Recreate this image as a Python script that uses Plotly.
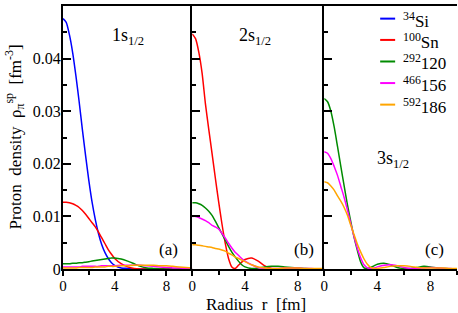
import plotly.graph_objects as go

# radius grid [fm]
R = [0, 0.25, 0.5, 0.75, 1, 1.25, 1.5, 1.75, 2, 2.25, 2.5, 2.75, 3, 3.25, 3.5, 3.75,
     4, 4.5, 5, 5.5, 6, 6.5, 7, 7.5, 8, 8.5, 9, 9.5, 10]

NUCLEI = ["<sup>34</sup>Si", "<sup>100</sup>Sn", "<sup>292</sup>120", "<sup>466</sup>156", "<sup>592</sup>186"]
COLORS = ["#0000ff", "#ff0000", "#008b00", "#ff00ff", "#ffa500"]

# panel (a) 1s1/2
s1_Si = [.0476, .0469, .0445, .0411, .0367, .0318, .0265, .0215, .0168, .0127, .0094, .0067, .0046, .0031, .0020, .0012,
         .0007, .0002, .0001, 0, 0, 0, 0, 0, 0, 0, 0, 0, 0]
s1_Sn = [.0127, .0127, .0126, .0124, .0121, .0117, .0111, .0104, .0096, .0088, .0080, .0070, .0059, .0048, .0037, .0028,
         .0020, .0010, .0004, .0001, 0, 0, 0, 0, 0, 0, 0, 0, 0]
s1_120 = [.0010, .0010, .0010, .0011, .0011, .0012, .0012, .0013, .0014, .0015, .0016, .0017, .0018, .0019, .0020, .0021,
          .0021, .0019, .0015, .0010, .0005, .0002, .0001, 0, 0, 0, 0, 0, 0]
s1_156 = [.0004, .0004, .0004, .0004, .0004, .0004, .0005, .0005, .0005, .0005, .0005, .0005, .0006, .0006, .0006, .0006,
          .0006, .0007, .0007, .0007, .0007, .0006, .0005, .0004, .0003, .0002, .0002, .0001, .0001]
s1_186 = [.0002, .0002, .0002, .0002, .0002, .0003, .0003, .0003, .0003, .0003, .0004, .0004, .0004, .0004, .0005, .0005,
          .0005, .0006, .0006, .0007, .0007, .0007, .0007, .0006, .0006, .0005, .0004, .0003, .0002]

# panel (b) 2s1/2
s2_Sn = [.0447, .0438, .0412, .0372, .0314, .0266, .0220, .0173, .0128, .0086, .0049, .0020, .0004, .0001, .0007, .0013,
         .0018, .0021, .0015, .0006, .0001, 0, 0, 0, 0, 0, 0, 0, 0]
s2_120 = [.0126, .0126, .0124, .0121, .0116, .0110, .0102, .0091, .0079, .0067, .0055, .0043, .0032, .0023, .0015, .0008,
          .0004, .0001, .0002, .0004, .0005, .0005, .0004, .0003, .0002, .0001, 0, 0, 0]
s2_156 = [.0100, .0100, .0098, .0095, .0092, .0088, .0083, .0080, .0076, .0068, .0059, .0049, .0040, .0032, .0026, .0020,
          .0015, .0008, .0003, .0001, .0001, .0001, .0002, .0002, .0002, .0001, .0001, 0, 0]
s2_186 = [.0046, .0046, .0045, .0044, .0043, .0042, .0041, .0039, .0038, .0036, .0034, .0030, .0027, .0023, .0020, .0017,
          .0014, .0008, .0004, .0002, .0001, .0001, .0002, .0002, .0002, .0001, .0001, .0001, .0001]

# panel (c) 3s1/2
s3_120 = [.0324, .0318, .0300, .0270, .0233, .0195, .0158, .0122, .0090, .0060, .0035, .0013, .0002, .0001, .0003, .0006,
          .0009, .0011, .0008, .0003, .0001, .0001, .0003, .0005, .0004, .0002, .0001, 0, 0]
s3_156 = [.0223, .0220, .0210, .0195, .0178, .0157, .0136, .0112, .0086, .0061, .0039, .0021, .0008, .0002, .0001, .0002,
          .0004, .0007, .0008, .0006, .0003, .0001, .0001, .0002, .0003, .0002, .0001, .0001, 0]
s3_186 = [.0166, .0164, .0158, .0150, .0139, .0129, .0117, .0102, .0083, .0065, .0047, .0032, .0019, .0009, .0003, .0001,
          .0001, .0003, .0005, .0006, .0006, .0005, .0003, .0002, .0002, .0002, .0002, .0001, .0001]

PANELS = [
    ("1s<sub>1/2</sub>", "(a)", [s1_Si, s1_Sn, s1_120, s1_156, s1_186]),
    ("2s<sub>1/2</sub>", "(b)", [None, s2_Sn, s2_120, s2_156, s2_186]),
    ("3s<sub>1/2</sub>", "(c)", [None, None, s3_120, s3_156, s3_186]),
]

FONT = "Liberation Serif, Times New Roman, serif"
fig = go.Figure()
domains = [[0, 0.328], [0.328, 0.663], [0.663, 1.0]]
label_pos = [(0.36, 0.885, 0.82), (0.34, 0.885, 0.846), (0.38, 0.415, 0.834)]

for p, (lvl, tag, series) in enumerate(PANELS):
    sx = "" if p == 0 else str(p + 1)
    for k, ys in enumerate(series):
        if ys is None:
            continue
        fig.add_trace(go.Scatter(x=R, y=ys, mode="lines", xaxis="x" + sx, yaxis="y" + sx,
                                 line=dict(color=COLORS[k], width=1.5, shape="spline", smoothing=0.6),
                                 showlegend=False, hoverinfo="skip"))
    fig.layout["xaxis" + sx] = dict(domain=domains[p], anchor="y" + sx, range=[0, 10], showline=True,
                                    linecolor="black", linewidth=2, mirror=True, showgrid=False, zeroline=False,
                                    ticks="outside", ticklen=5, tickwidth=1.5, tickcolor="black",
                                    tickmode="linear", tick0=0, dtick=4, ticklabelstandoff=-3,
                                    minor=dict(dtick=2, tick0=0, ticks="outside", ticklen=4, tickwidth=1.5,
                                               tickcolor="black"),
                                    tickfont=dict(family=FONT, size=15, color="black"))
    fig.layout["yaxis" + sx] = dict(domain=[0, 1], anchor="x" + sx, range=[0, 0.05], showline=True,
                                    linecolor="black", linewidth=2, showgrid=False, zeroline=False,
                                    ticks="inside", ticklen=8, tickwidth=1.5, tickcolor="black",
                                    tickmode="linear", tick0=0, dtick=0.01, showticklabels=(p == 0),
                                    ticklabelstandoff=-3,
                                    minor=dict(dtick=0.005, tick0=0, ticks="inside", ticklen=4, tickwidth=1.5,
                                               tickcolor="black"),
                                    tickfont=dict(family=FONT, size=16, color="black"))
    lx, ly, tx = label_pos[p]
    fig.add_annotation(text=lvl, xref="x" + sx + " domain", yref="y" + sx + " domain", x=lx, y=ly,
                       xanchor="left", yanchor="middle", showarrow=False,
                       font=dict(family=FONT, size=18, color="black"))
    fig.add_annotation(text=tag, xref="x" + sx + " domain", yref="y" + sx + " domain", x=tx, y=0.073,
                       xanchor="center", yanchor="middle", showarrow=False,
                       font=dict(family=FONT, size=17, color="black"))

# legend (drawn manually to match short line symbols)
leg_y = [0.952, 0.871, 0.789, 0.707, 0.625]
for k, name in enumerate(NUCLEI):
    fig.add_shape(type="line", xref="paper", yref="paper", x0=0.805, x1=0.843, y0=leg_y[k], y1=leg_y[k],
                  line=dict(color=COLORS[k], width=2))
    fig.add_annotation(text=name, xref="paper", yref="paper", x=0.858, y=leg_y[k], yshift=-1,
                       xanchor="left", yanchor="middle", showarrow=False,
                       font=dict(family=FONT, size=17, color="black"))

fig.add_annotation(text="Radius\u00a0\u00a0r\u00a0\u00a0[fm]", xref="paper", yref="paper", x=0.49, y=0,
                   yshift=-35, xanchor="center", yanchor="middle", showarrow=False,
                   font=dict(family=FONT, size=17, color="black"))
fig.add_annotation(text="Proton\u00a0\u00a0density\u00a0\u00a0\u03c1<sub>\u03c0</sub><sup>sp</sup>\u00a0\u00a0[fm<sup>-3</sup>]",
                   xref="paper", yref="paper", x=0, y=0.5, xshift=-48, textangle=-90,
                   xanchor="center", yanchor="middle", showarrow=False,
                   font=dict(family=FONT, size=17, color="black"))

fig.update_layout(width=458, height=313, margin=dict(l=63, r=1, t=6, b=44),
                  paper_bgcolor="white", plot_bgcolor="white", showlegend=False)
fig.write_html("out.html", config={"displayModeBar": False},
               post_script="document.body.style.margin='0';document.body.style.padding='0';")
